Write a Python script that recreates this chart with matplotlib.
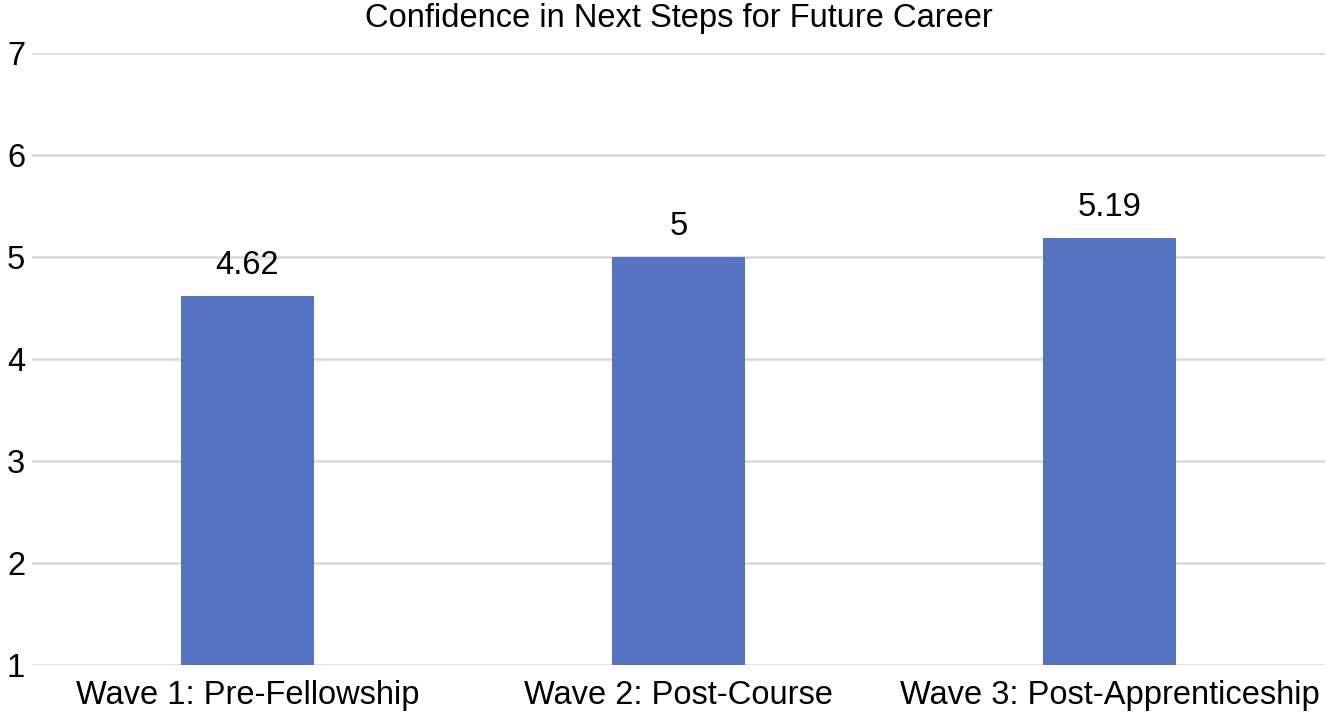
import numpy as np
import matplotlib
matplotlib.use("Agg")
import matplotlib.pyplot as plt

categories = ["Wave 1: Pre-Fellowship", "Wave 2: Post-Course", "Wave 3: Post-Apprenticeship"]
values = [4.62, 5, 5.19]
value_labels = ["4.62", "5", "5.19"]
yticks = [1, 2, 3, 4, 5, 6, 7]

plt.rcParams['font.family'] = ['Liberation Sans', 'DejaVu Sans']

fig = plt.figure(figsize=(13.27, 7.16), dpi=100)
ax_left, ax_width = 0.0241, 0.9744
ax = fig.add_axes([ax_left, 0.0712, ax_width, 0.8544])

x = np.arange(len(categories))
ax.bar(x, [v - 1 for v in values], bottom=1, width=0.31, color='#5673C1', zorder=3)

# value labels above the bars
for xi, v, lab in zip(x, values, value_labels):
    ax.annotate(lab, (xi, v), xytext=(0, 11), textcoords='offset points',
                ha='center', va='bottom', fontsize=23.5, color='black')

ax.set_xlim(-0.5, 2.5)
ax.set_ylim(1, 7)
ax.set_yticks(yticks)
ax.set_xticks(x)
ax.set_xticklabels(categories)
ax.tick_params(axis='both', length=0, labelsize=23.5, colors='black')
ax.tick_params(axis='x', pad=11)
ax.tick_params(axis='y', pad=5)
ax.grid(axis='y', color='#D9D9D9', linewidth=1.8, zorder=0)
for s in ax.spines.values():
    s.set_visible(False)

# title centred over the plot area, not the whole figure
fig.text(ax_left + ax_width / 2, 0.974, "Confidence in Next Steps for Future Career",
         ha='center', va='center', fontsize=23.5, color='black')

fig.savefig("out.png", dpi=100)
